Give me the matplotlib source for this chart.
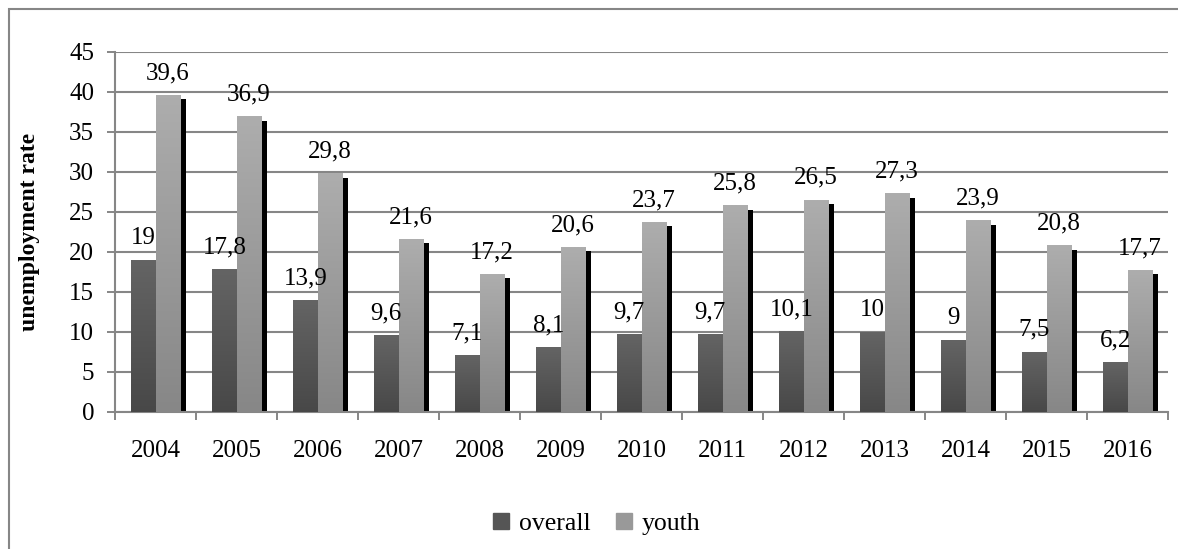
import matplotlib
matplotlib.use('Agg')
import matplotlib.pyplot as plt
import numpy as np
from matplotlib.colors import LinearSegmentedColormap
from matplotlib.patches import Rectangle

years = ['2004', '2005', '2006', '2007', '2008', '2009', '2010',
         '2011', '2012', '2013', '2014', '2015', '2016']
overall = [19, 17.8, 13.9, 9.6, 7.1, 8.1, 9.7, 9.7, 10.1, 10, 9, 7.5, 6.2]
youth = [39.6, 36.9, 29.8, 21.6, 17.2, 20.6, 23.7, 25.8, 26.5, 27.3, 23.9, 20.8, 17.7]

plt.rcParams['font.family'] = ['Liberation Serif', 'DejaVu Serif']
plt.rcParams['font.size'] = 18

grid_col = '#868686'
overall_cmap = LinearSegmentedColormap.from_list('ov', ['#484848', '#646464'])
youth_cmap = LinearSegmentedColormap.from_list('yo', ['#878787', '#adadad'])

fig = plt.figure(figsize=(11.78, 5.49), dpi=100)
ax = fig.add_axes([115 / 1178, 1 - 412 / 549, (1168 - 115) / 1178, (412 - 52) / 549])

x = np.arange(len(years))
w = 0.3
grad = np.linspace(0, 1, 100).reshape(-1, 1)


def gradient_bars(xs, vals, cmap, z):
    for xi, v in zip(xs, vals):
        ax.imshow(grad, extent=(xi, xi + w, 0, v), origin='lower', cmap=cmap,
                  aspect='auto', zorder=z, interpolation='bilinear')


# shadow behind youth bars
ax.bar(x + 0.074, np.array(youth) - 0.5, width=w, align='edge', color='black', zorder=2)
gradient_bars(x - w, overall, overall_cmap, 3)
gradient_bars(x, youth, youth_cmap, 3)

fmt = lambda v: f'{v:g}'.replace('.', ',')
for xi, v in zip(x, overall):
    ax.annotate(fmt(v), (xi - w / 2, v), xytext=(0, 8), textcoords='offset points',
                ha='center', va='bottom', zorder=5)
for xi, v in zip(x, youth):
    ax.annotate(fmt(v), (xi + w / 2, v), xytext=(0, 8), textcoords='offset points',
                ha='center', va='bottom', zorder=5)

ax.set_xlim(-0.5, len(years) - 0.5)
ax.set_ylim(0, 45)
ax.set_yticks(range(0, 46, 5))
ax.set_xticks(x)
ax.set_xticklabels(years)
ax.set_xticks(np.arange(-0.5, len(years), 1), minor=True)
ax.tick_params(axis='x', which='major', length=0, pad=20)
ax.tick_params(axis='x', which='minor', length=6, width=1.4, color=grid_col, direction='out')
ax.tick_params(axis='y', length=6, width=1.4, color=grid_col, pad=9)
ax.yaxis.grid(True, color=grid_col, linewidth=1.5, zorder=0)
ax.set_axisbelow(True)
for s in ['top', 'right']:
    ax.spines[s].set_visible(False)
for s in ['left', 'bottom']:
    ax.spines[s].set_color(grid_col)
    ax.spines[s].set_linewidth(1.5)

ax.set_ylabel('unemployment rate', fontweight='bold', fontsize=17)
ax.yaxis.set_label_coords(-75 / 1053, 0.5)

handles = [Rectangle((0, 0), 1, 1, color='#555555'), Rectangle((0, 0), 1, 1, color='#999999')]
fig.legend(handles, ['overall', 'youth'], loc='center', bbox_to_anchor=(597 / 1178, 1 - 524 / 549),
           ncol=2, frameon=False, handlelength=0.6, handleheight=0.6, handletextpad=0.4,
           columnspacing=1.0, fontsize=18.5)

# outer chart frame
fig.add_artist(Rectangle((9 / 1178, -0.1), 1.2, 1.1 - 9 / 549, transform=fig.transFigure,
                         fill=False, edgecolor=grid_col, linewidth=1.5))

fig.savefig('out.png', dpi=100)
